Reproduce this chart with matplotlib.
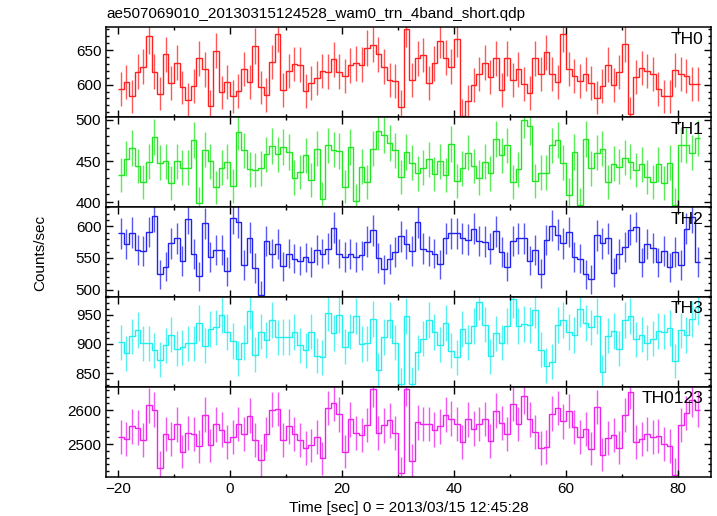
import numpy as np
import matplotlib
matplotlib.use('Agg')
import matplotlib.pyplot as plt
from matplotlib.ticker import MultipleLocator

plt.rcParams['font.family'] = ['Liberation Sans', 'DejaVu Sans']

# 1 s bins starting at t = -20 s
t_start = -20.0
bin_width = 1.0

th0 = [594, 604, 583, 619, 626, 670, 619, 587, 644, 603,
       632, 596, 578, 598, 638, 622, 569, 649, 589, 604,
       583, 591, 623, 604, 656, 596, 585, 633, 673, 592,
       620, 630, 629, 591, 603, 609, 620, 619, 637, 619,
       612, 628, 631, 629, 653, 658, 644, 626, 607, 606,
       568, 680, 607, 638, 643, 603, 631, 664, 639, 626,
       666, 555, 576, 599, 616, 632, 611, 638, 592, 638,
       607, 622, 601, 588, 638, 615, 647, 616, 604, 674,
       623, 612, 605, 615, 602, 581, 598, 629, 600, 618,
       659, 558, 611, 624, 620, 615, 594, 583, 583, 621,
       615, 612, 601, 601]

th1 = [433, 453, 466, 444, 424, 449, 479, 448, 450, 423,
       450, 442, 442, 476, 399, 464, 450, 418, 442, 449,
       420, 485, 463, 440, 439, 441, 458, 468, 458, 467,
       461, 430, 437, 457, 427, 465, 404, 469, 464, 462,
       419, 467, 402, 443, 424, 465, 486, 482, 472, 463,
       431, 461, 448, 435, 442, 452, 434, 450, 433, 471,
       426, 441, 460, 444, 430, 449, 435, 477, 457, 469,
       425, 440, 500, 492, 426, 436, 436, 469, 476, 448,
       409, 461, 397, 477, 441, 460, 465, 424, 447, 443,
       454, 449, 439, 446, 431, 424, 446, 423, 448, 397,
       470, 469, 460, 478]

th2 = [589, 572, 590, 562, 561, 591, 616, 524, 536, 573,
       581, 545, 612, 556, 521, 605, 552, 562, 562, 529,
       613, 607, 539, 582, 534, 491, 577, 557, 572, 537,
       557, 549, 546, 551, 544, 563, 557, 565, 598, 557,
       552, 556, 552, 554, 576, 594, 550, 532, 548, 560,
       584, 572, 561, 607, 565, 561, 557, 540, 581, 589,
       589, 581, 579, 596, 577, 576, 565, 592, 560, 536,
       577, 581, 581, 546, 563, 525, 578, 601, 587, 573,
       591, 552, 549, 524, 516, 586, 573, 581, 527, 556,
       568, 595, 599, 543, 572, 566, 543, 561, 535, 560,
       539, 596, 615, 544]

th3 = [903, 884, 913, 924, 901, 901, 889, 873, 898, 916,
       892, 894, 901, 901, 935, 897, 925, 928, 949, 920,
       905, 875, 902, 956, 882, 921, 907, 940, 911, 912,
       912, 920, 898, 889, 921, 880, 877, 953, 919, 950,
       895, 921, 947, 900, 901, 943, 855, 912, 940, 902,
       831, 947, 832, 886, 909, 941, 920, 899, 936, 888,
       877, 926, 902, 930, 972, 933, 879, 918, 902, 931,
       976, 930, 934, 932, 958, 890, 863, 870, 932, 941,
       920, 915, 960, 936, 928, 947, 852, 914, 922, 892,
       941, 948, 908, 916, 902, 909, 922, 921, 927, 871,
       923, 915, 943, 963]

th0123 = [2520, 2514, 2552, 2549, 2511, 2614, 2602, 2431, 2529, 2516,
          2558, 2478, 2534, 2529, 2493, 2587, 2496, 2558, 2543, 2505,
          2520, 2559, 2531, 2584, 2511, 2452, 2529, 2602, 2603, 2511,
          2552, 2531, 2511, 2488, 2496, 2520, 2458, 2607, 2620, 2588,
          2478, 2573, 2532, 2526, 2556, 2662, 2533, 2555, 2570, 2532,
          2414, 2664, 2450, 2564, 2560, 2560, 2543, 2552, 2587, 2575,
          2560, 2505, 2573, 2546, 2559, 2574, 2510, 2599, 2563, 2529,
          2618, 2560, 2641, 2573, 2536, 2488, 2492, 2590, 2606, 2567,
          2598, 2550, 2520, 2545, 2487, 2609, 2469, 2517, 2528, 2490,
          2586, 2654, 2506, 2516, 2529, 2521, 2523, 2500, 2495, 2410,
          2556, 2592, 2631, 2602]

names = ['TH0', 'TH1', 'TH2', 'TH3', 'TH0123']
series = [th0, th1, th2, th3, th0123]
colors = ['#ff2020', '#22e622', '#2222ee', '#22eeee', '#ee22ee']
ylims = [(552.8, 683.1), (394.1, 503.2), (488.4, 630.5), (827, 980), (2404, 2669)]
majors = [50, 50, 50, 50, 100]
minors = [10, 10, 10, 10, 20]

fig, axes = plt.subplots(5, 1, sharex=True, figsize=(7.17, 5.16), dpi=100)
fig.subplots_adjust(left=0.148, right=0.9916, bottom=0.0762, top=0.947, hspace=0)

for i in range(5):
    ax = axes[i]
    vals = np.array(series[i], dtype=float)
    edges = t_start + bin_width * np.arange(len(vals) + 1)
    centers = 0.5 * (edges[:-1] + edges[1:])
    # poisson errors for 1 s bins
    err = np.sqrt(vals * bin_width) / bin_width
    ax.errorbar(centers, vals, yerr=err, fmt='none', ecolor=colors[i], elinewidth=1.0, alpha=0.75)
    ax.stairs(vals, edges, baseline=None, color=colors[i], linewidth=1.0)
    ax.set_ylim(ylims[i])
    ax.set_xlim(-22.14, 85.9)
    ax.yaxis.set_major_locator(MultipleLocator(majors[i]))
    ax.yaxis.set_minor_locator(MultipleLocator(minors[i]))
    ax.xaxis.set_major_locator(MultipleLocator(20))
    ax.xaxis.set_minor_locator(MultipleLocator(10))
    ax.tick_params(which='both', direction='in', top=True, right=True, labelsize=11, width=1.0)
    ax.tick_params(which='major', length=5)
    ax.tick_params(which='minor', length=2.5)
    for s in ax.spines.values():
        s.set_linewidth(1.1)
    ax.text(0.988, 0.95, names[i], transform=ax.transAxes, ha='right', va='top', fontsize=12.5)

axes[0].set_title('ae507069010_20130315124528_wam0_trn_4band_short.qdp', loc='left', fontsize=11, pad=7)
axes[-1].set_xlabel('Time [sec] 0 = 2013/03/15 12:45:28', fontsize=11, labelpad=4)
fig.text(0.056, 0.51, 'Counts/sec', rotation=90, ha='center', va='center', fontsize=11)

plt.savefig('out.png')
